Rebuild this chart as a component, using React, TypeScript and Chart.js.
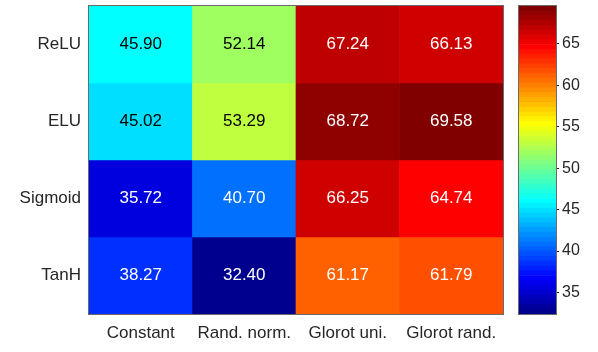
import React, { useEffect, useRef } from "react";
import { Chart, registerables } from "chart.js";

Chart.register(...registerables);

const rowLabels = ["ReLU", "ELU", "Sigmoid", "TanH"];
const colLabels = ["Constant", "Rand. norm.", "Glorot uni.", "Glorot rand."];
const reluValues = [45.9, 52.14, 67.24, 66.13];
const eluValues = [45.02, 53.29, 68.72, 69.58];
const sigmoidValues = [35.72, 40.7, 66.25, 64.74];
const tanhValues = [38.27, 32.4, 61.17, 61.79];
const colorbarTicks = [35, 40, 45, 50, 55, 60, 65];

const rows = [reluValues, eluValues, sigmoidValues, tanhValues];
const allValues = rows.flat();
const cMin = Math.min(...allValues);
const cMax = Math.max(...allValues);

const FONT = "'Liberation Sans', Arial, Helvetica, sans-serif";
const TEXT = "#262626";

// MATLAB jet colormap with m entries
function jet(m: number): number[][] {
  const n = Math.ceil(m / 4);
  const u: number[] = [];
  for (let i = 1; i <= n; i++) u.push(i / n);
  for (let i = 0; i < n - 1; i++) u.push(1);
  for (let i = n; i >= 1; i--) u.push(i / n);
  const off = Math.ceil(n / 2) - (m % 4 === 1 ? 1 : 0);
  const J = Array.from({ length: m }, () => [0, 0, 0]);
  const g: number[] = [], r: number[] = [], b: number[] = [];
  for (let k = 1; k <= u.length; k++) {
    const gi = off + k;
    if (gi <= m) g.push(gi);
    if (gi + n <= m) r.push(gi + n);
    if (gi - n >= 1) b.push(gi - n);
  }
  r.forEach((idx, k) => (J[idx - 1][0] = u[k]));
  g.forEach((idx, k) => (J[idx - 1][1] = u[k]));
  const bStart = u.length - b.length;
  b.forEach((idx, k) => (J[idx - 1][2] = u[bStart + k]));
  return J;
}

const NCOL = 64;
const cmap = jet(NCOL);

function rgbOf(c: number[]) {
  return c.map((v) => Math.round(v * 255));
}
function indexFor(v: number) {
  let idx = Math.floor(((v - cMin) / (cMax - cMin)) * NCOL);
  if (idx >= NCOL) idx = NCOL - 1;
  if (idx < 0) idx = 0;
  return idx;
}
function colorFor(v: number) {
  const [r, g, b] = rgbOf(cmap[indexFor(v)]);
  return `rgb(${r},${g},${b})`;
}
function textColorFor(v: number) {
  const [r, g, b] = rgbOf(cmap[indexFor(v)]);
  const lum = 0.299 * r + 0.587 * g + 0.114 * b;
  return lum < 140 ? "#ffffff" : "#000000";
}

const cellTextPlugin = {
  id: "cellText",
  afterDatasetsDraw(chart: any) {
    const ctx = chart.ctx;
    ctx.save();
    ctx.font = `17px ${FONT}`;
    ctx.textAlign = "center";
    ctx.textBaseline = "middle";
    chart.data.datasets.forEach((ds: any, di: number) => {
      const meta = chart.getDatasetMeta(di);
      meta.data.forEach((el: any, i: number) => {
        const v = rows[di][i];
        ctx.fillStyle = textColorFor(v);
        ctx.fillText(v.toFixed(2), el.x, (el.y + el.base) / 2);
      });
    });
    ctx.restore();
  },
};

const boxPlugin = {
  id: "box",
  afterDraw(chart: any) {
    const a = chart.chartArea;
    const ctx = chart.ctx;
    ctx.save();
    ctx.strokeStyle = "#6b6b6b";
    ctx.lineWidth = 1;
    ctx.strokeRect(Math.round(a.left) - 0.5, Math.round(a.top) - 0.5, Math.round(a.right - a.left) + 1, Math.round(a.bottom - a.top) + 1);
    ctx.restore();
  },
};

export default function App() {
  const mainRef = useRef<HTMLCanvasElement>(null);
  const barRef = useRef<HTMLCanvasElement>(null);

  useEffect(() => {
    const main = new Chart(mainRef.current as HTMLCanvasElement, {
      type: "bar",
      data: {
        labels: colLabels,
        datasets: rows.map((vals, r) => ({
          label: rowLabels[r],
          data: vals.map(() => [r, r + 1]),
          backgroundColor: vals.map((v) => colorFor(v)),
          borderWidth: 0,
          barPercentage: 1,
          categoryPercentage: 1,
          grouped: false,
        })),
      } as any,
      options: {
        responsive: false,
        animation: false,
        layout: { padding: { top: 6, right: 7, left: 0, bottom: 0 } },
        plugins: { legend: { display: false }, tooltip: { enabled: false } },
        scales: {
          x: {
            grid: { display: false, drawTicks: false },
            border: { display: false },
            ticks: { color: TEXT, font: { family: FONT, size: 17 }, padding: 9, maxRotation: 0 },
            afterFit: (s: any) => {
              s.height = 38;
              s.paddingLeft = 0;
              s.paddingRight = 0;
            },
          },
          y: {
            type: "linear",
            min: 0,
            max: 4,
            reverse: true,
            grid: { display: false, drawTicks: false },
            border: { display: false },
            afterBuildTicks: (s: any) => {
              s.ticks = rowLabels.map((_, i) => ({ value: i + 0.5 }));
            },
            ticks: {
              color: TEXT,
              font: { family: FONT, size: 17 },
              padding: 8,
              callback: (_v: any, i: number) => rowLabels[i],
            },
            afterFit: (s: any) => {
              s.width = 89;
              s.paddingTop = 0;
              s.paddingBottom = 0;
            },
          },
        },
      } as any,
      plugins: [cellTextPlugin, boxPlugin],
    });

    const bandSize = (cMax - cMin) / NCOL;
    const bar = new Chart(barRef.current as HTMLCanvasElement, {
      type: "bar",
      data: {
        labels: [""],
        datasets: cmap.map((c, k) => {
          const [r, g, b] = rgbOf(c);
          return {
            data: [[cMin + k * bandSize, cMin + (k + 1) * bandSize]],
            backgroundColor: `rgb(${r},${g},${b})`,
            borderWidth: 0,
            barPercentage: 1,
            categoryPercentage: 1,
            grouped: false,
          };
        }),
      } as any,
      options: {
        responsive: false,
        animation: false,
        layout: { padding: { top: 6, left: 9, right: 0, bottom: 38 } },
        plugins: { legend: { display: false }, tooltip: { enabled: false } },
        scales: {
          x: { display: false },
          y: {
            type: "linear",
            position: "right",
            min: cMin,
            max: cMax,
            afterBuildTicks: (s: any) => {
              s.ticks = colorbarTicks.map((v) => ({ value: v }));
            },
            grid: { drawOnChartArea: false, drawTicks: true, tickLength: 3, color: "#262626" },
            border: { display: false },
            ticks: { color: TEXT, font: { family: FONT, size: 16 }, padding: 3 },
            afterFit: (s: any) => {
              s.width = 42;
              s.paddingTop = 0;
              s.paddingBottom = 0;
            },
          },
        },
      } as any,
      plugins: [boxPlugin],
    });

    return () => {
      main.destroy();
      bar.destroy();
    };
  }, []);

  return (
    <div style={{ position: "fixed", left: 0, top: 0, width: 598, height: 352, background: "#fff" }}>
      <canvas ref={mainRef} width={510} height={352} style={{ position: "absolute", left: 0, top: 0, width: 510, height: 352 }} />
      <canvas ref={barRef} width={88} height={352} style={{ position: "absolute", left: 510, top: 0, width: 88, height: 352 }} />
    </div>
  );
}
